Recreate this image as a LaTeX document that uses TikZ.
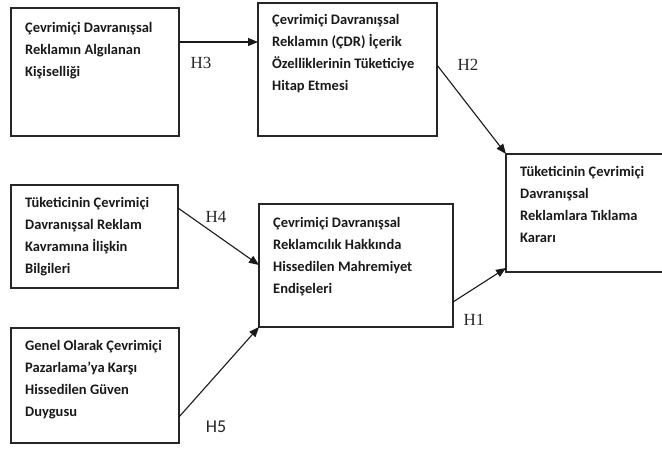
\documentclass[tikz,border=0pt]{standalone}
\usepackage{fontspec}
\setmainfont{Carlito}
\newfontfamily\timesf{Liberation Serif}
\usetikzlibrary{arrows.meta}
\tikzset{
  box/.style={draw=black!85, line width=1.1pt, inner sep=0pt, outer sep=0pt, anchor=north west},
  txt/.style={anchor=north west, inner sep=0pt, align=left, text=black!90,
              font=\bfseries\fontsize{14.5}{22}\selectfont},
  arr/.style={draw=black!90, line width=1.1pt, -{Triangle[length=10pt,width=8pt]}},
  hlab/.style={inner sep=0pt, text=black!85, font=\timesf\fontsize{17}{20}\selectfont},
  hlabsans/.style={inner sep=0pt, text=black!85, font=\fontsize{18}{20}\selectfont}
}
\begin{document}
\begin{tikzpicture}[x=1pt,y=-1pt]
\useasboundingbox (0,0) rectangle (662,450);
\clip (0,0) rectangle (662,450);
% boxes
\node[box, minimum width=168pt, minimum height=128pt] (a) at (11,8) {};
\node[box, minimum width=179pt, minimum height=133pt] (b) at (258,3) {};
\node[box, minimum width=175pt, minimum height=118pt] (c) at (506,154) {};
\node[box, minimum width=167pt, minimum height=103pt] (d) at (11,185) {};
\node[box, minimum width=194pt, minimum height=123pt] (e) at (259,204) {};
\node[box, minimum width=168pt, minimum height=115pt] (f) at (11,328) {};
% texts
\node[txt] (at) at (25,17) {\strut Çevrimiçi Davranışsal\\Reklamın Algılanan\\Kişiselliği};
\node[txt] (bt) at (272,8.5) {\strut Çevrimiçi Davranışsal\\Reklamın (ÇDR) İçerik\\Özelliklerinin Tüketiciye\\Hitap Etmesi};
\node[txt] (ct) at (520,161) {\strut Tüketicinin Çevrimiçi\\Davranışsal\\Reklamlara Tıklama\\Kararı};
\node[txt] (dt) at (25,192) {\strut Tüketicinin Çevrimiçi\\Davranışsal Reklam\\Kavramına İlişkin\\Bilgileri};
\node[txt] (et) at (273,212) {\strut Çevrimiçi Davranışsal\\Reklamcılık Hakkında\\Hissedilen Mahremiyet\\Endişeleri};
\node[txt] (ft) at (25,335) {\strut Genel Olarak Çevrimiçi\\Pazarlama’ya Karşı\\Hissedilen Güven\\Duygusu};
% connectors
\draw[arr] ([yshift=-34pt]a.north east) coordinate (h3s) -- (h3s -| b.west);
\draw[arr] ([yshift=-62pt]b.north east) -- (c.north west);
\draw[arr] ([yshift=-23pt]d.north east) -- ([yshift=-61pt]e.north west);
\draw[arr] ([yshift=-98pt]e.north east) -- ([yshift=4pt]c.south west);
\draw[arr] ([yshift=-89pt]f.north east) -- (e.south west);
% labels
\node[hlab] (h3) at (201,63) {H3};
\node[hlab] (h2) at (468,65) {H2};
\node[hlab] (h4) at (216,217) {H4};
\node[hlab] (h1) at (474,320) {H1};
\node[hlabsans] (h5) at (216,427) {H5};
\end{tikzpicture}
\end{document}
